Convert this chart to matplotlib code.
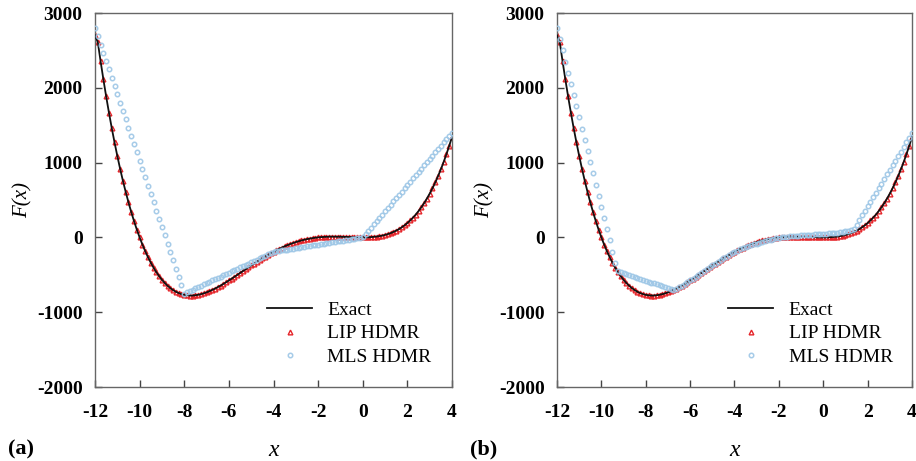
import numpy as np
import matplotlib
matplotlib.use('Agg')
import matplotlib.pyplot as plt

plt.rcParams['font.family'] = ['Liberation Serif', 'DejaVu Serif']
plt.rcParams['axes.unicode_minus'] = False

# x sampling points (step 0.125 from -12 to 4)
x_grid = np.linspace(-12, 4, 129)

# exact function (one row per unit of x)
f_exact = [
    2700, 2611, 2356, 2114, 1885, 1668, 1463, 1271,
    1089, 918, 758, 609, 469, 338, 217, 104,
    0, -96, -184, -265, -338, -405, -465, -519,
    -567, -609, -646, -678, -704, -727, -744, -758,
    -768, -774, -777, -777, -773, -767, -759, -748,
    -735, -720, -703, -685, -665, -645, -623, -600,
    -576, -552, -527, -502, -476, -451, -426, -400,
    -375, -350, -326, -302, -278, -256, -234, -212,
    -192, -172, -154, -136, -119, -104, -89, -76,
    -63, -52, -41, -32, -23, -16, -10, -4,
    0, 4, 6, 8, 10, 10, 10, 10,
    9, 8, 7, 5, 4, 2, 1, 0,
    0, 0, 1, 4, 7, 11, 17, 24,
    33, 44, 57, 73, 91, 111, 135, 162,
    192, 226, 264, 305, 352, 402, 458, 519,
    585, 657, 735, 819, 910, 1007, 1112, 1224,
    1344,
]

# LIP HDMR lies on top of the exact curve in both panels
lip_a = list(f_exact)
lip_b = list(f_exact)

# MLS HDMR, panel (a)
mls_a = [
    2800, 2689, 2578, 2467, 2356, 2245, 2134, 2024,
    1912, 1802, 1691, 1580, 1469, 1358, 1247, 1136,
    1025, 914, 803, 692, 581, 470, 359, 248,
    138, 27, -84, -195, -306, -417, -528, -639,
    -750, -733, -715, -698, -680, -663, -645, -628,
    -610, -593, -576, -558, -541, -523, -506, -488,
    -471, -454, -436, -419, -401, -384, -366, -349,
    -332, -314, -297, -279, -262, -244, -227, -209,
    -192, -186, -180, -174, -168, -162, -156, -150,
    -144, -138, -132, -126, -120, -114, -108, -102,
    -96, -90, -84, -78, -72, -66, -60, -54,
    -48, -42, -36, -30, -24, -18, -12, -6,
    0, 44, 88, 131, 175, 219, 263, 306,
    350, 394, 438, 481, 525, 569, 613, 656,
    700, 744, 788, 831, 875, 919, 963, 1006,
    1050, 1094, 1138, 1181, 1225, 1269, 1313, 1356,
    1400,
]

# MLS HDMR, panel (b)
mls_b = [
    2800, 2650, 2501, 2351, 2202, 2052, 1903, 1753,
    1604, 1454, 1305, 1155, 1006, 856, 707, 557,
    408, 258, 109, -41, -190, -340, -450, -463,
    -476, -488, -501, -514, -527, -539, -552, -565,
    -578, -590, -603, -616, -629, -641, -654, -667,
    -680, -692, -705, -685, -665, -645, -623, -600,
    -576, -552, -527, -502, -476, -451, -426, -400,
    -375, -350, -326, -302, -278, -256, -234, -213,
    -194, -176, -160, -146, -132, -119, -106, -94,
    -82, -70, -59, -49, -39, -30, -22, -14,
    -7, -1, 4, 9, 13, 17, 20, 23,
    26, 29, 32, 35, 38, 40, 43, 46,
    48, 51, 54, 57, 60, 64, 68, 73,
    79, 86, 95, 110, 171, 232, 293, 354,
    415, 476, 537, 598, 659, 720, 781, 842,
    903, 964, 1025, 1086, 1147, 1208, 1269, 1329,
    1390,
]

x_ticks = [-12, -10, -8, -6, -4, -2, 0, 2, 4]
y_ticks = [-2000, -1000, 0, 1000, 2000, 3000]

fig = plt.figure(figsize=(9.16, 4.61), dpi=100)
ax_a = fig.add_axes([95 / 916, 1 - 387 / 461, 357 / 916, 374 / 461])
ax_b = fig.add_axes([557 / 916, 1 - 387 / 461, 355 / 916, 374 / 461])

panels = [(ax_a, lip_a, mls_a, '(a)', 8), (ax_b, lip_b, mls_b, '(b)', 470)]
for ax, lip, mls, tag, tag_x in panels:
    ax.plot(x_grid, f_exact, color='#111111', lw=1.3, zorder=3, label='Exact')
    ax.plot(x_grid, lip, ls='none', marker='^', ms=3.4, mfc='none', mec='#e5252a',
            mew=1.0, zorder=2, label='LIP HDMR')
    ax.plot(x_grid, mls, ls='none', marker='o', ms=3.2, mfc='none', mec='#9cc6e6',
            mew=1.1, alpha=0.9, zorder=4, label='MLS HDMR')

    ax.set_xlim(-12, 4)
    ax.set_ylim(-2000, 3000)
    ax.set_xticks(x_ticks)
    ax.set_yticks(y_ticks)
    ax.tick_params(direction='in', length=5, width=1, color='#444444',
                   labelsize=14, top=False, right=False)
    ax.tick_params(axis='x', pad=12)
    ax.tick_params(axis='y', pad=9)
    for lab in ax.get_xticklabels() + ax.get_yticklabels():
        lab.set_fontweight('bold')
    for sp in ax.spines.values():
        sp.set_color('#666666')
        sp.set_linewidth(1.0)

    ax.legend(loc='upper left', bbox_to_anchor=(0.455, 0.255), frameon=False,
              fontsize=14, handlelength=2.3, handletextpad=0.8,
              labelspacing=0.3, borderpad=0, markerscale=1.0)

    box = ax.get_position()
    fig.text(box.x0 - 72 / 916, box.y0 + box.height / 2, 'F(x)', rotation=90,
             ha='center', va='center', fontsize=15, style='italic')
    fig.text(box.x0 + box.width / 2, 1 - 450 / 461, 'x', ha='center',
             va='center', fontsize=17, style='italic')
    fig.text(tag_x / 916, 1 - 449 / 461, tag, ha='left', va='center',
             fontsize=16, fontweight='bold')

fig.savefig('out.png', dpi=100)
